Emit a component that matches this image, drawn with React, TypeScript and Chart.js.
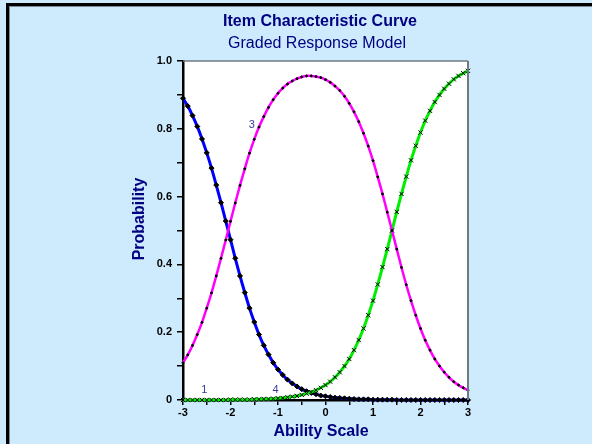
import React, { useEffect, useRef } from "react";
import { Chart, registerables } from "chart.js";

Chart.register(...registerables);

const FONT = "Arial, 'Liberation Sans', sans-serif";
const TITLE = "Item Characteristic Curve";
const SUBTITLE = "Graded Response Model";
const X_TITLE = "Ability Scale";
const Y_TITLE = "Probability";

const thetas = [
  -3.0, -2.9, -2.8, -2.7, -2.6, -2.5, -2.4, -2.3, -2.2, -2.1,
  -2.0, -1.9, -1.8, -1.7, -1.6, -1.5, -1.4, -1.3, -1.2, -1.1,
  -1.0, -0.9, -0.8, -0.7, -0.6, -0.5, -0.4, -0.3, -0.2, -0.1,
  0.0, 0.1, 0.2, 0.3, 0.4, 0.5, 0.6, 0.7, 0.8, 0.9,
  1.0, 1.1, 1.2, 1.3, 1.4, 1.5, 1.6, 1.7, 1.8, 1.9,
  2.0, 2.1, 2.2, 2.3, 2.4, 2.5, 2.6, 2.7, 2.8, 2.9, 3.0,
];

const cat1 = [
  0.890, 0.867, 0.839, 0.807, 0.770, 0.729, 0.684, 0.634, 0.582, 0.528,
  0.473, 0.418, 0.366, 0.317, 0.271, 0.230, 0.193, 0.161, 0.134, 0.110,
  0.090, 0.074, 0.060, 0.049, 0.040, 0.032, 0.026, 0.021, 0.017, 0.013,
  0.011, 0.009, 0.007, 0.006, 0.005, 0.004, 0.003, 0.002, 0.002, 0.002,
  0.001, 0.001, 0.001, 0.001, 0.001, 0.000, 0.000, 0.000, 0.000, 0.000,
  0.000, 0.000, 0.000, 0.000, 0.000, 0.000, 0.000, 0.000, 0.000, 0.000, 0.000,
];

const cat3 = [
  0.110, 0.133, 0.161, 0.193, 0.229, 0.271, 0.316, 0.366, 0.418, 0.472,
  0.527, 0.581, 0.633, 0.682, 0.728, 0.769, 0.805, 0.836, 0.863, 0.886,
  0.905, 0.920, 0.932, 0.941, 0.948, 0.953, 0.956, 0.956, 0.954, 0.951,
  0.945, 0.937, 0.926, 0.913, 0.896, 0.875, 0.850, 0.821, 0.787, 0.749,
  0.706, 0.658, 0.608, 0.554, 0.500, 0.445, 0.391, 0.340, 0.293, 0.250,
  0.211, 0.176, 0.147, 0.121, 0.100, 0.082, 0.067, 0.054, 0.044, 0.036, 0.029,
];

const cat4 = [
  0.000, 0.000, 0.000, 0.000, 0.000, 0.000, 0.000, 0.000, 0.000, 0.000,
  0.001, 0.001, 0.001, 0.001, 0.001, 0.002, 0.002, 0.003, 0.003, 0.004,
  0.005, 0.006, 0.008, 0.010, 0.012, 0.015, 0.019, 0.023, 0.029, 0.036,
  0.044, 0.054, 0.067, 0.082, 0.100, 0.121, 0.147, 0.177, 0.211, 0.250,
  0.293, 0.341, 0.392, 0.445, 0.500, 0.555, 0.608, 0.659, 0.707, 0.750,
  0.789, 0.824, 0.853, 0.879, 0.900, 0.918, 0.933, 0.946, 0.956, 0.964, 0.971,
];

const yTickValues = [0, 0.2, 0.4, 0.6, 0.8, 1.0];
const yTickLabels = ["0", "0.2", "0.4", "0.6", "0.8", "1.0"];
const xTickValues = [-3, -2, -1, 0, 1, 2, 3];
const xTickLabels = ["-3", "-2", "-1", "0", "1", "2", "3"];

const curveLabels = ["1", "3", "4"];
const curveLabelX = [-2.55, -1.55, -1.05];
const curveLabelY = [0.03, 0.81, 0.03];

function pts(ys: number[]) {
  return thetas.map((t, i) => ({ x: t, y: ys[i] }));
}

function lookup(v: number, vals: number[], labels: string[]) {
  for (let i = 0; i < vals.length; i++) {
    if (Math.abs(vals[i] - v) < 1e-6) return labels[i];
  }
  return "";
}

export default function App() {
  const ref = useRef<HTMLCanvasElement | null>(null);

  useEffect(() => {
    const canvas = ref.current;
    if (!canvas) return;

    const decor = {
      id: "decor",
      beforeDraw(chart: any) {
        const { ctx, chartArea } = chart;
        ctx.save();
        ctx.fillStyle = "#ffffff";
        ctx.fillRect(chartArea.left, chartArea.top, chartArea.right - chartArea.left, chartArea.bottom - chartArea.top);
        ctx.restore();
      },
      afterDraw(chart: any) {
        const { ctx, chartArea } = chart;
        ctx.save();
        ctx.strokeStyle = "#6f7a80";
        ctx.lineWidth = 1.5;
        ctx.beginPath();
        ctx.moveTo(chartArea.left, chartArea.top);
        ctx.lineTo(chartArea.right, chartArea.top);
        ctx.stroke();
        ctx.lineWidth = 2;
        ctx.beginPath();
        ctx.moveTo(chartArea.right, chartArea.top);
        ctx.lineTo(chartArea.right, chartArea.bottom);
        ctx.stroke();
        // titles
        ctx.fillStyle = "#000080";
        ctx.textAlign = "center";
        ctx.textBaseline = "middle";
        ctx.font = `bold 16px ${FONT}`;
        ctx.fillText(TITLE, 320, 22);
        ctx.font = `16px ${FONT}`;
        ctx.fillText(SUBTITLE, 317, 44);
        ctx.font = `bold 16px ${FONT}`;
        ctx.fillText(X_TITLE, 321, 432);
        ctx.save();
        ctx.translate(140, 219);
        ctx.rotate(-Math.PI / 2);
        ctx.fillText(Y_TITLE, 0, 0);
        ctx.restore();
        // curve labels
        const xs = chart.scales.x;
        const ys = chart.scales.y;
        ctx.fillStyle = "#3a3aa0";
        ctx.font = `11px ${FONT}`;
        for (let i = 0; i < curveLabels.length; i++) {
          ctx.fillText(curveLabels[i], xs.getPixelForValue(curveLabelX[i]), ys.getPixelForValue(curveLabelY[i]));
        }
        ctx.restore();
      },
    };

    const chart = new Chart(canvas, {
      type: "line",
      data: {
        datasets: [
          {
            label: "3",
            data: pts(cat3),
            borderColor: "#ff00ff",
            borderWidth: 2.5,
            pointStyle: "circle",
            pointRadius: 1,
            pointBackgroundColor: "#000000",
            pointBorderColor: "#000000",
            pointBorderWidth: 1,
            tension: 0.3,
            clip: false,
          },
          {
            label: "4",
            data: pts(cat4),
            borderColor: "#00ee00",
            borderWidth: 3,
            pointStyle: "crossRot",
            pointRadius: 3,
            pointBorderColor: "#000000",
            pointBorderWidth: 1,
            tension: 0.3,
            clip: false,
          },
          {
            label: "1",
            data: pts(cat1),
            borderColor: "#0000ff",
            borderWidth: 3,
            pointStyle: "rectRot",
            pointRadius: 2.5,
            pointBackgroundColor: "#000000",
            pointBorderColor: "#000000",
            pointBorderWidth: 1,
            tension: 0.3,
            clip: false,
          },
        ],
      },
      options: {
        animation: false,
        responsive: false,
        maintainAspectRatio: false,
        devicePixelRatio: 1,
        layout: { padding: { left: 131, right: 124, top: 61, bottom: 3 } },
        plugins: {
          legend: { display: false },
          title: { display: false },
          tooltip: { enabled: false },
        },
        scales: {
          x: {
            type: "linear",
            min: -3,
            max: 3,
            afterFit: (s: any) => { s.height = 41; },
            afterBuildTicks: (s: any) => {
              const t: any[] = [];
              for (let i = 0; i <= 12; i++) t.push({ value: -3 + i * 0.5 });
              s.ticks = t;
            },
            ticks: {
              autoSkip: false,
              maxRotation: 0,
              padding: 1,
              color: "#000000",
              font: { family: FONT, size: 11, weight: "bold" },
              callback: (v: any) => lookup(Number(v), xTickValues, xTickLabels),
            },
            grid: { display: true, drawOnChartArea: false, drawTicks: true, tickLength: 5, color: "#000000", lineWidth: 1.5 },
            border: { display: true, color: "#000000", width: 2.5 },
            title: { display: false },
          },
          y: {
            type: "linear",
            min: 0,
            max: 1,
            afterFit: (s: any) => { s.width = 52; },
            afterBuildTicks: (s: any) => {
              const t: any[] = [];
              for (let i = 0; i <= 10; i++) t.push({ value: i / 10 });
              s.ticks = t;
            },
            ticks: {
              autoSkip: false,
              padding: 5,
              color: "#000000",
              font: { family: FONT, size: 11, weight: "bold" },
              callback: (v: any) => lookup(Number(v), yTickValues, yTickLabels),
            },
            grid: { display: true, drawOnChartArea: false, drawTicks: true, tickLength: 6, color: "#000000", lineWidth: 1.5 },
            border: { display: true, color: "#000000", width: 2.5 },
            title: { display: false },
          },
        },
      },
      plugins: [decor],
    } as any);

    return () => chart.destroy();
  }, []);

  return (
    <div style={{ position: "fixed", left: 0, top: 0, width: 592, height: 444, background: "#cdebfd", overflow: "hidden" }}>
      <div
        style={{
          position: "absolute",
          left: 6,
          top: 3,
          width: 700,
          height: 600,
          borderLeft: "3px solid #000000",
          borderTop: "3px solid #000000",
          boxShadow: "inset 1px 1px 0 #7a8a94",
        }}
      />
      <canvas ref={ref} width={592} height={444} style={{ position: "absolute", left: 0, top: 0, width: 592, height: 444 }} />
    </div>
  );
}
